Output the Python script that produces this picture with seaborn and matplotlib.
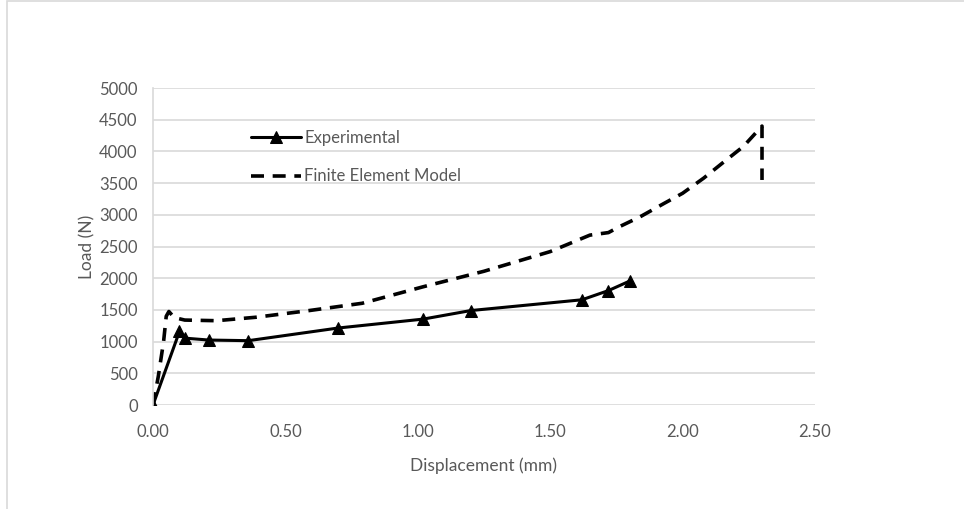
import pandas as pd
import seaborn as sns
import matplotlib.pyplot as plt
from matplotlib.patches import Rectangle

# experimental readings
exp_disp = [0.00, 0.10, 0.12, 0.21, 0.36, 0.70, 1.02, 1.20, 1.62, 1.72, 1.80]
exp_load = [0, 1160, 1055, 1025, 1015, 1215, 1355, 1490, 1660, 1805, 1955]

# finite element model curve
fem_disp = [0.00, 0.02, 0.04, 0.05, 0.06, 0.08, 0.12, 0.24, 0.39, 0.59, 0.79, 1.02,
            1.25, 1.50, 1.65, 1.72, 1.76, 1.84, 1.93, 2.00, 2.08, 2.15, 2.23, 2.30, 2.30]
fem_load = [0, 450, 1000, 1400, 1475, 1380, 1340, 1330, 1385, 1490, 1605, 1865,
            2110, 2420, 2680, 2720, 2810, 2970, 3180, 3340, 3580, 3815, 4080, 4400, 3550]

x_ticks = [0.0, 0.5, 1.0, 1.5, 2.0, 2.5]
y_ticks = list(range(0, 5001, 500))

sns.set_theme(style="white")
plt.rcParams['font.family'] = ['Lato', 'DejaVu Sans']

df_exp = pd.DataFrame({'disp': exp_disp, 'load': exp_load})
df_fem = pd.DataFrame({'disp': fem_disp, 'load': fem_load})

fig = plt.figure(figsize=(9.64, 5.09), dpi=100)
ax = fig.add_axes([0.1587, 0.2043, 0.6867, 0.6227])

# outer frame like the spreadsheet chart area
fig.patches.append(Rectangle((0.0075, -0.01), 1.1, 1.008, transform=fig.transFigure,
                             fill=False, edgecolor='#d9d9d9', linewidth=1.2))

sns.lineplot(data=df_exp, x='disp', y='load', ax=ax, color='black', linewidth=2.2,
             marker='^', markersize=8, markeredgecolor='black', sort=False,
             estimator=None, label='Experimental')
sns.lineplot(data=df_fem, x='disp', y='load', ax=ax, color='black', linewidth=2.6,
             linestyle=(0, (3.6, 2.4)), sort=False, estimator=None,
             label='Finite Element Model')

ax.set_xlim(0, 2.5)
ax.set_ylim(0, 5000)
ax.set_xticks(x_ticks)
ax.set_xticklabels([f"{t:.2f}" for t in x_ticks])
ax.set_yticks(y_ticks)
ax.grid(axis='y', color='#d9d9d9', linewidth=1.2)
ax.set_axisbelow(True)
for s in ['top', 'right', 'bottom']:
    ax.spines[s].set_visible(False)
ax.spines['left'].set_color('#d9d9d9')
ax.spines['left'].set_linewidth(1.2)
ax.tick_params(axis='both', colors='#595959', labelsize=12, length=0)
ax.tick_params(axis='y', pad=11)
ax.tick_params(axis='x', pad=14)

ax.set_xlabel('Displacement (mm)', fontsize=12.5, color='#595959', labelpad=12)
ax.set_ylabel('Load (N)', fontsize=12.5, color='#595959', labelpad=3)

leg = ax.legend(loc='upper left', bbox_to_anchor=(0.125, 0.915), frameon=False,
                fontsize=12, labelspacing=1.35, handlelength=3.0, handletextpad=0.2)
for t in leg.get_texts():
    t.set_color('#595959')

fig.savefig('out.png', dpi=100)
